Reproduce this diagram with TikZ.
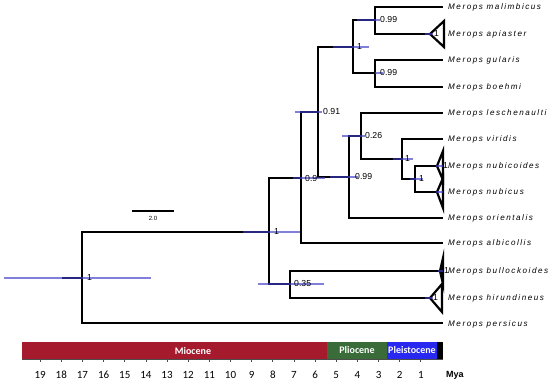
\documentclass[tikz,border=0pt]{standalone}
\usepackage{fontspec}
\setmainfont{Liberation Sans}
\newfontfamily\tipfont[LetterSpace=19]{Liberation Sans}
\newfontfamily\calfont{Carlito}
\definecolor{mio}{RGB}{166,26,46}
\definecolor{plio}{RGB}{58,108,58}
\definecolor{pleis}{RGB}{40,40,240}
\definecolor{hpdc}{RGB}{60,60,200}
\begin{document}
\begin{tikzpicture}[x=1pt,y=-1pt,
  br/.style={line width=2.3pt,black,line join=miter},
  tri/.style={line width=2.2pt,black,line join=miter},
  hpd/.style={line width=2pt,hpdc,opacity=0.65},
  tiplab/.style={anchor=west,inner sep=0pt,font=\tipfont\itshape\fontsize{8.1}{9}\selectfont},
  sup/.style={anchor=west,inner sep=0pt,font=\fontsize{8.7}{9}\selectfont},
  epoch/.style={inner sep=0pt,text=white,font=\calfont\bfseries\fontsize{10}{11}\selectfont},
  axnum/.style={inner sep=0pt,font=\calfont\fontsize{11}{12}\selectfont}]
\useasboundingbox (0,0) rectangle (550,381);
% internal nodes
\coordinate (rstub) at (62,278);
\coordinate (R) at (82,278);
\coordinate (N1) at (269,232);
\coordinate (N035) at (290,284);
\coordinate (N09) at (301,178);
\coordinate (N091) at (318,112);
\coordinate (NA) at (353,47);
\coordinate (Na1) at (375,20);
\coordinate (Na2) at (375,73);
\coordinate (NB) at (349,177);
\coordinate (N026) at (361,136);
\coordinate (Nv) at (402,159);
\coordinate (Nn) at (415,179);
% tip ends
\coordinate (emal) at (443,7);
\coordinate (eapi) at (430,34);
\coordinate (egul) at (443,60);
\coordinate (eboe) at (443,87);
\coordinate (eles) at (443,113);
\coordinate (evir) at (443,139);
\coordinate (enuo) at (437,166);
\coordinate (enus) at (437,192);
\coordinate (eori) at (443,218);
\coordinate (ealb) at (443,243);
\coordinate (ebul) at (440,271);
\coordinate (ehir) at (430,298);
\coordinate (eper) at (443,323);
% branches
\draw[br] (rstub) -- (R);
\draw[br] (R) |- (N1);
\draw[br] (R) |- (eper);
\draw[br] (N1) |- (N09);
\draw[br] (N1) |- (N035);
\draw[br] (N035) |- (ebul);
\draw[br] (N035) |- (ehir);
\draw[br] (N09) |- (N091);
\draw[br] (N09) |- (ealb);
\draw[br] (N091) |- (NA);
\draw[br] (N091) |- (NB);
\draw[br] (NA) |- (Na1);
\draw[br] (NA) |- (Na2);
\draw[br] (Na1) |- (emal);
\draw[br] (Na1) |- (eapi);
\draw[br] (Na2) |- (egul);
\draw[br] (Na2) |- (eboe);
\draw[br] (NB) |- (N026);
\draw[br] (NB) |- (eori);
\draw[br] (N026) |- (eles);
\draw[br] (N026) |- (Nv);
\draw[br] (Nv) |- (evir);
\draw[br] (Nv) |- (Nn);
\draw[br] (Nn) |- (enuo);
\draw[br] (Nn) |- (enus);
% collapsed clades
\draw[tri] (eapi) -- ++(14,-13) -- ++(0,26) -- cycle;
\draw[tri] (enuo) -- ++(6,-15) -- ++(0,29) -- cycle;
\draw[tri] (enus) -- ++(6,-14) -- ++(0,30) -- cycle;
\draw[tri,fill=black] (ebul) -- ++(3,-13) -- ++(0,26) -- cycle;
\draw[tri] (ehir) -- ++(12,-14) -- ++(0,28) -- cycle;
% HPD bars
\draw[hpd] ([xshift=-78pt]R) -- ([xshift=69pt]R);
\draw[hpd] ([xshift=-26pt]N1) -- ([xshift=31pt]N1);
\draw[hpd] ([xshift=-32pt]N035) -- ([xshift=34pt]N035);
\draw[hpd] ([xshift=-8pt]N09) -- ([xshift=24pt]N09);
\draw[hpd] ([xshift=-23pt]N091) -- ([xshift=4pt]N091);
\draw[hpd] ([xshift=-20pt]NA) -- ([xshift=16pt]NA);
\draw[hpd] ([xshift=-18pt]Na1) -- ([xshift=5pt]Na1);
\draw[hpd] ([xshift=0pt]Na2) -- ([xshift=8pt]Na2);
\draw[hpd] ([xshift=-19pt]NB) -- ([xshift=9pt]NB);
\draw[hpd] ([xshift=-19pt]N026) -- ([xshift=4pt]N026);
\draw[hpd] ([xshift=-9pt]Nv) -- ([xshift=11pt]Nv);
\draw[hpd] ([xshift=-5pt]Nn) -- ([xshift=8pt]Nn);
\draw[hpd] ([xshift=-5pt]eapi) -- ([xshift=3pt]eapi);
\draw[hpd] ([xshift=-1pt]enuo) -- ([xshift=6pt]enuo);
\draw[hpd] ([xshift=-1pt]enus) -- ([xshift=6pt]enus);
\draw[hpd] ([xshift=-2pt]ebul) -- ([xshift=3pt]ebul);
\draw[hpd] ([xshift=-5pt]ehir) -- ([xshift=3pt]ehir);
% support values
\node[sup] (sR) at ([xshift=5pt]R) {1};
\node[sup] (sN1) at ([xshift=5pt]N1) {1};
\node[sup] (sN035) at ([xshift=4pt]N035) {0.35};
\node[sup] (sN09) at ([xshift=4pt,yshift=-1pt]N09) {0.9};
\node[sup] (sN091) at ([xshift=5pt]N091) {0.91};
\node[sup] (sNA) at ([xshift=4pt]NA) {1};
\node[sup] (sNa1) at ([xshift=5pt]Na1) {0.99};
\node[sup] (sNa2) at ([xshift=5pt]Na2) {0.99};
\node[sup] (sNB) at ([xshift=6pt]NB) {0.99};
\node[sup] (sN026) at ([xshift=4pt]N026) {0.26};
\node[sup] (sNv) at ([xshift=3pt]Nv) {1};
\node[sup] (sNn) at ([xshift=4pt]Nn) {1};
\node[sup] (sapi) at ([xshift=4pt]eapi) {1};
\node[sup] (snuo) at ([xshift=6pt]enuo) {1};
\node[sup] (sbul) at ([xshift=4pt]ebul) {1};
\node[sup] (shir) at ([xshift=3pt]ehir) {1};
% tip labels
\node[tiplab] (lmal) at (448,7) {Merops malimbicus};
\node[tiplab] (lapi) at (448,34) {Merops apiaster};
\node[tiplab] (lgul) at (448,60) {Merops gularis};
\node[tiplab] (lboe) at (448,87) {Merops boehmi};
\node[tiplab] (lles) at (448,113) {Merops leschenaulti};
\node[tiplab] (lvir) at (448,139) {Merops viridis};
\node[tiplab] (lnuo) at (448,166) {Merops nubicoides};
\node[tiplab] (lnus) at (448,192) {Merops nubicus};
\node[tiplab] (lori) at (448,218) {Merops orientalis};
\node[tiplab] (lalb) at (448,243) {Merops albicollis};
\node[tiplab] (lbul) at (448,271) {Merops bullockoides};
\node[tiplab] (lhir) at (448,298) {Merops hirundineus};
\node[tiplab] (lper) at (448,324) {Merops persicus};
% scale bar
\coordinate (sb1) at (132,211);
\coordinate (sb2) at (174,211);
\draw[line width=1.6pt] (sb1) -- (sb2);
\node[inner sep=0pt,font=\fontsize{6}{7}\selectfont] (sbl) at (153,218.5) {2.0};
% epoch bar
\fill[mio] (22,342) rectangle (327,359);
\fill[plio] (327,342) rectangle (387,359);
\fill[pleis] (387,342) rectangle (437,359);
\fill[black] (437,342) rectangle (443,359);
\node[epoch] (emio) at (193,351) {Miocene};
\node[epoch] (eplio) at (357,350) {Pliocene};
\node[epoch] (epleis) at (412,350.5) {Pleistocene};
\draw[line width=0.8pt,black!70] (22,359) -- (443,359);
\foreach \k in {1,...,19}{
  \draw[line width=0.8pt,black!70] ({442-21.15*\k},359) -- ({442-21.15*\k},361.5);
  \node[axnum] (ax\k) at ({442-21.15*\k},375) {\k};
}
\node[inner sep=0pt,font=\bfseries\fontsize{9}{10}\selectfont] (mya) at (455,375) {Mya};
\end{tikzpicture}
\end{document}
